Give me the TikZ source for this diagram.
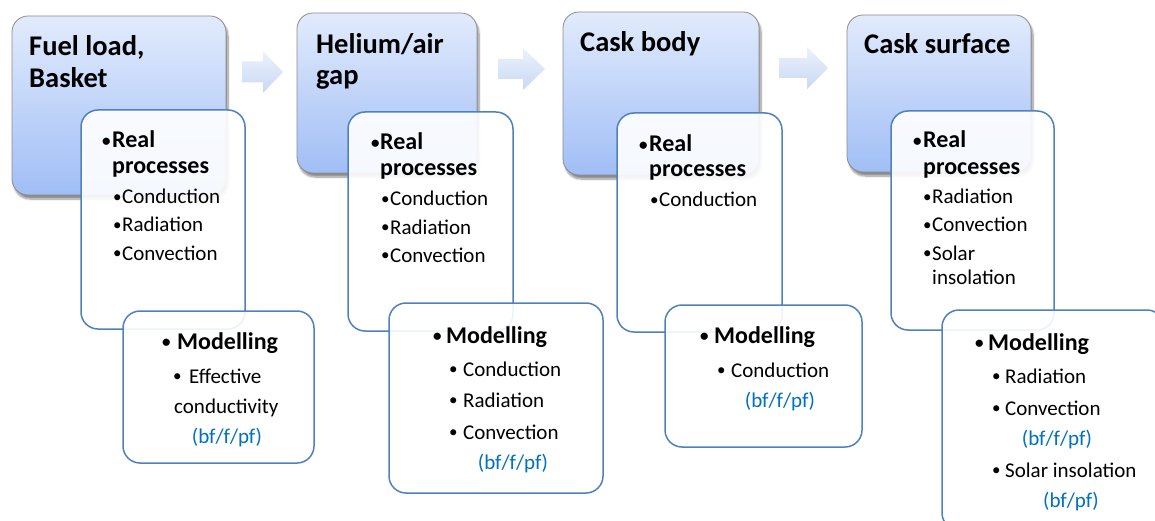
\documentclass[tikz,border=0pt]{standalone}
\usepackage{fontspec}
\setmainfont{Carlito}
\usetikzlibrary{shadows.blur}

\definecolor{edgeblue}{RGB}{79,129,189}
\definecolor{labelblue}{RGB}{0,112,192}
\definecolor{stagetop}{RGB}{226,235,252}
\definecolor{stagebot}{RGB}{160,190,246}
\definecolor{arrowtop}{RGB}{236,242,252}
\definecolor{arrowbot}{RGB}{200,216,243}

% small bullet hanging to the left of an item, in a box of the given width
\newcommand\hangbul[1]{\llap{\makebox[#1][l]{\raisebox{1.8pt}{\fontsize{17}{17}\selectfont\textbullet}}}}

\tikzset{
  stagebox/.style={draw=black!45, line width=0.8pt, rounded corners=16pt,
    top color=stagetop, bottom color=stagebot, inner sep=0pt,
    blur shadow={shadow xshift=2pt, shadow yshift=-4pt, shadow opacity=45, shadow blur steps=8}},
  factbox/.style={draw=edgeblue, line width=1.5pt, rounded corners=17pt,
    fill=white, fill opacity=0.9, inner sep=0pt},
  flowarrow/.style={top color=arrowtop, bottom color=arrowbot, draw=none},
  ttl/.style={anchor=base west, inner sep=0pt, font=\fontsize{28.5}{32}\selectfont\bfseries},
  hd/.style={anchor=base west, inner sep=0pt, font=\fontsize{24}{28}\selectfont\bfseries},
  itm/.style={anchor=base west, inner sep=0pt, font=\fontsize{21}{25}\selectfont},
  note/.style={anchor=base, inner sep=0pt, font=\fontsize{21}{25}\selectfont, text=labelblue},
}

\begin{document}
\begin{tikzpicture}[x=1pt, y=-1pt]
\clip (0,0) rectangle (1155,521);

% block arrows between the stages
\path[flowarrow] (242,61.5) -- (263,61.5) -- (263,51) -- (283,72) -- (263,93) -- (263,82.5) -- (242,82.5) -- cycle;
\path[flowarrow] (498,59) -- (523,59) -- (523,48) -- (545,69) -- (523,90) -- (523,79) -- (498,79) -- cycle;
\path[flowarrow] (779,58) -- (807,58) -- (807,47) -- (828,68) -- (807,89) -- (807,78) -- (779,78) -- cycle;

% ---------- Fuel load, Basket ----------
\node[stagebox, minimum width=214pt, minimum height=179pt] (s1) at (119,105.5) {};
\node[ttl] (s1a) at (29,56) {Fuel load,};
\node[ttl] (s1b) at (29,88) {Basket};
\node[factbox, minimum width=164pt, minimum height=219pt] (r1) at (163,219.5) {};
\node[hd] (r1a) at (112,148) {\hangbul{10pt}Real};
\node[hd] (r1b) at (112,174) {processes};
\node[itm] (r1c) at (122,204) {\hangbul{9pt}Conduction};
\node[itm] (r1d) at (122,232) {\hangbul{9pt}Radiation};
\node[itm] (r1e) at (122,260) {\hangbul{9pt}Convection};
\node[factbox, minimum width=191pt, minimum height=152pt] (m1) at (218.5,387) {};
\node[hd] (m1a) at (177,349) {\hangbul{15pt}Modelling};
\node[itm] (m1b) at (189,383) {\hangbul{16pt}Effective};
\node[itm] (m1c) at (174,413) {conductivity};
\node[note] (m1d) at (227,443) {(bf/f/pf)};

% ---------- Helium/air gap ----------
\node[stagebox, minimum width=180pt, minimum height=160pt] (s2) at (387,93) {};
\node[ttl] (s2a) at (316,54) {Helium/air};
\node[ttl] (s2b) at (316,85) {gap};
\node[factbox, minimum width=165pt, minimum height=219pt] (r2) at (430.5,221.5) {};
\node[hd] (r2a) at (380,150) {\hangbul{9pt}Real};
\node[hd] (r2b) at (380,176) {processes};
\node[itm] (r2c) at (390,206) {\hangbul{9pt}Conduction};
\node[itm] (r2d) at (390,234) {\hangbul{9pt}Radiation};
\node[itm] (r2e) at (390,262) {\hangbul{9pt}Convection};
\node[factbox, minimum width=214pt, minimum height=190pt] (m2) at (496,398) {};
\node[hd] (m2a) at (446,343) {\hangbul{13pt}Modelling};
\node[itm] (m2b) at (463,376) {\hangbul{14pt}Conduction};
\node[itm] (m2c) at (463,407) {\hangbul{14pt}Radiation};
\node[itm] (m2d) at (463,439) {\hangbul{14pt}Convection};
\node[note] (m2e) at (513,469) {(bf/f/pf)};

% ---------- Cask body ----------
\node[stagebox, minimum width=196pt, minimum height=163pt] (s3) at (661,93.5) {};
\node[ttl] (s3a) at (580,52) {Cask body};
\node[factbox, minimum width=165pt, minimum height=219pt] (r3) at (699.5,222.5) {};
\node[hd] (r3a) at (649,152) {\hangbul{10pt}Real};
\node[hd] (r3b) at (649,177) {processes};
\node[itm] (r3c) at (659,207) {\hangbul{9pt}Conduction};
\node[factbox, minimum width=197pt, minimum height=142pt] (m3) at (763.5,376) {};
\node[hd] (m3a) at (714,343) {\hangbul{14pt}Modelling};
\node[itm] (m3b) at (731,377) {\hangbul{14pt}Conduction};
\node[note] (m3c) at (780,407) {(bf/f/pf)};

% ---------- Cask surface ----------
\node[stagebox, minimum width=184pt, minimum height=157pt] (s4) at (939,93.5) {};
\node[ttl] (s4a) at (864,54) {Cask surface};
\node[factbox, minimum width=163pt, minimum height=219pt] (r4) at (972.5,220.5) {};
\node[hd] (r4a) at (923,148) {\hangbul{10pt}Real};
\node[hd] (r4b) at (923,175) {processes};
\node[itm] (r4c) at (932,204) {\hangbul{9pt}Radiation};
\node[itm] (r4d) at (932,232) {\hangbul{9pt}Convection};
\node[itm] (r4e) at (932,260) {\hangbul{9pt}Solar};
\node[itm] (r4f) at (932,284) {insolation};
\node[factbox, minimum width=222pt, minimum height=220pt] (m4) at (1053,420) {};
\node[hd] (m4a) at (988,350) {\hangbul{13pt}Modelling};
\node[itm] (m4b) at (1005,383) {\hangbul{13pt}Radiation};
\node[itm] (m4c) at (1005,415) {\hangbul{13pt}Convection};
\node[note] (m4d) at (1057,445) {(bf/f/pf)};
\node[itm] (m4e) at (1005,477) {\hangbul{13pt}Solar insolation};
\node[note] (m4f) at (1071,507) {(bf/pf)};
\end{tikzpicture}
\end{document}
